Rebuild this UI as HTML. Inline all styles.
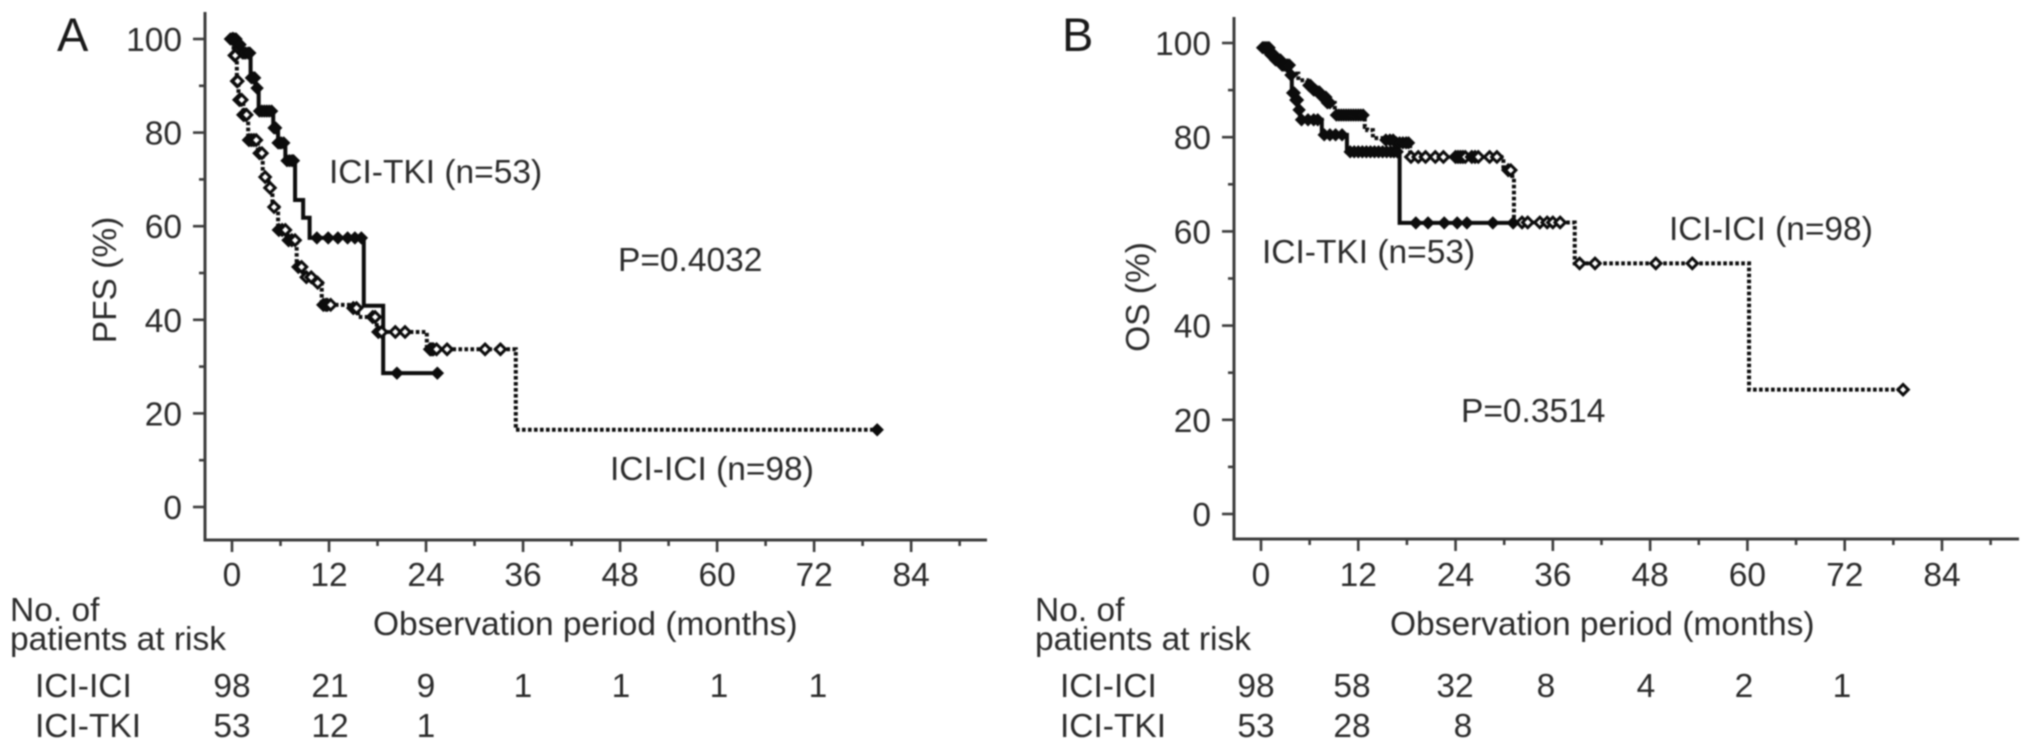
<!DOCTYPE html>
<html lang="en">
<head>
<meta charset="utf-8">
<title>Kaplan-Meier PFS and OS curves</title>
<style>
html,body{margin:0;padding:0;background:#fff;width:2032px;height:750px;overflow:hidden}
svg{display:block;filter:blur(0.75px)}
text{font-family:"Liberation Sans",Arial,sans-serif;font-size:33.5px;fill:#2b2b2b}
</style>
</head>
<body>
<svg id="chart" width="2032" height="750" viewBox="0 0 2032 750" xmlns="http://www.w3.org/2000/svg"></svg>
<script>
// ---- shared tick values ----
const yTickValues = [0, 10, 20, 30, 40, 50, 60, 70, 80, 90, 100];
const yTickLabels = ["0", "", "20", "", "40", "", "60", "", "80", "", "100"];
const xTickValues = [0, 6, 12, 18, 24, 30, 36, 42, 48, 54, 60, 66, 72, 78, 84, 90];
const xTickLabels = ["0", "", "12", "", "24", "", "36", "", "48", "", "60", "", "72", "", "84", ""];

// ---- Panel A: PFS ----
const pfsTkiTimes = [-0.4, 0.6, 1.2, 2.3, 2.9, 3.3, 5.1, 5.7, 6.6, 7.8, 8.8, 9.6, 16.3, 18.7];
const pfsTkiSurv = [100, 98.8, 97, 91.7, 89.5, 84.6, 81, 77.8, 74, 65.6, 61.8, 57.5, 43, 28.6];
const pfsTkiEnd = 25.8;
const pfsTkiCensors = [-0.2, 0, 0.3, 0.5, 0.8, 1, 1.3, 1.5, 1.7, 2, 2.2, 2.4, 2.6, 2.8, 3.1, 3.4, 3.7, 4, 4.3, 4.6, 4.9, 5.2, 5.4, 5.7, 5.9, 6.1, 6.4, 6.8, 7.1, 7.4, 7.6, 10.5, 11.9, 13.1, 14.3, 15.2, 16, 20.4, 25.4];
const pfsIciTimes = [-0.4, 0.2, 0.6, 0.8, 1.4, 2, 3.2, 3.8, 4.5, 5, 5.7, 6.8, 8, 8.8, 10.3, 11.1, 14.8, 15.6, 17.9, 24.1, 35.1];
const pfsIciSurv = [100, 96.5, 91, 87, 83.8, 78.4, 75.6, 70.5, 68.2, 64.1, 59.2, 57, 51.3, 49.1, 47.9, 43.2, 42.5, 40.6, 37.4, 33.7, 16.5];
const pfsIciEnd = 79.8;
const pfsIciCensors = [0.1, 0.3, 0.4, 0.6, 0.7, 0.9, 1, 1.2, 1.4, 1.5, 1.7, 1.8, 2.1, 2.4, 2.7, 3, 3.4, 3.7, 4.1, 4.7, 5.2, 5.8, 6.2, 6.6, 7, 7.4, 7.8, 8.2, 8.6, 9.2, 9.8, 10.6, 11.3, 11.6, 11.8, 12.2, 15, 15.4, 17.4, 17.7, 18.1, 18.5, 20.2, 21.4, 24.5, 24.7, 24.9, 25.3, 26.6, 31.3, 33.2];
const pfsFinalCensor = [79.8];
const pfsRiskIci = ["98", "21", "9", "1", "1", "1", "1"];
const pfsRiskTki = ["53", "12", "1"];

// ---- Panel B: OS ----
const osTkiTimes = [0, 1.1, 1.7, 2.6, 3.6, 3.8, 4.3, 4.6, 4.8, 7.5, 10.6, 17.1];
const osTkiSurv = [99, 97.5, 96.4, 95.3, 93.2, 89.4, 87.9, 85.8, 83.7, 80.5, 76.9, 61.8];
const osTkiEnd = 31.3;
const osTkiCensors = [0.2, 0.4, 0.6, 0.8, 1, 1.2, 1.4, 1.6, 1.8, 2, 2.2, 2.4, 2.6, 2.8, 3, 3.2, 3.3, 3.5, 3.7, 3.9, 4.1, 4.3, 4.5, 4.7, 5, 5.8, 6.5, 7, 7.8, 8.5, 9.2, 10, 11, 11.5, 12, 12.5, 13, 13.5, 14, 14.5, 15, 15.5, 16, 16.4, 16.8, 19.1, 20.6, 22.6, 24.2, 25.4, 28.6, 31.1];
const osIciTimes = [0, 1.1, 1.7, 2.6, 3.3, 4.6, 5.7, 6.3, 6.9, 7.5, 8.1, 9.1, 12.8, 13.1, 13.8, 15.3, 16.5, 18.4, 29.9, 31, 31.2, 38.7, 60.2];
const osIciSurv = [99, 97.5, 96.4, 95, 93.5, 92.1, 91, 90, 89.6, 88.5, 87.3, 84.7, 82.2, 81.5, 79.8, 79.4, 78.8, 75.8, 73, 71.3, 61.9, 53.2, 26.4];
const osIciEnd = 79.4;
const osIciCensors = [18.5, 19.4, 20.3, 21.5, 22.5, 24, 24.3, 24.6, 24.9, 25.2, 26, 26.4, 26.8, 28.2, 29.1, 30.5, 30.8, 32.2, 32.9, 34.4, 35.3, 36, 36.9, 39.3, 41.2, 48.7, 53.2, 79.2];
const osIciDenseCensors = [5.9, 6.1, 6.5, 6.7, 7, 7.2, 7.6, 7.8, 8, 8.2, 8.5, 9.3, 9.6, 9.9, 10.2, 10.5, 10.8, 11.1, 11.4, 11.7, 12, 12.3, 12.6, 15.4, 15.9, 16.3, 16.7, 17.1, 17.5, 17.9, 18.2];
const osRiskIci = ["98", "58", "32", "8", "4", "2", "1"];
const osRiskTki = ["53", "28", "8"];

const SVGNS = "http://www.w3.org/2000/svg";
const root = document.getElementById("chart");

function makeText(parent, str, x, y, anchor) {
  const t = document.createElementNS(SVGNS, "text");
  t.setAttribute("x", x);
  t.setAttribute("y", y);
  t.setAttribute("text-anchor", anchor || "start");
  t.textContent = str;
  parent.appendChild(t);
  return t;
}
function makeShape(parent, tag) {
  const s = document.createElementNS(SVGNS, tag);
  parent.appendChild(s);
  return s;
}
function survAt(t, times, surv) {
  let v = surv[0];
  for (let i = 0; i < times.length; i++) { if (t >= times[i]) v = surv[i]; }
  return v;
}

function drawSeries(group, times, surv, end, xf, yf, dotted) {
  let d = "M" + xf(times[0]) + " " + yf(surv[0]);
  for (let i = 1; i < times.length; i++) {
    d += " H" + xf(times[i]) + " V" + yf(surv[i]);
  }
  d += " H" + xf(end);
  const p = makeShape(group, "path");
  p.setAttribute("d", d);
  p.setAttribute("fill", "none");
  p.setAttribute("stroke", "#0c0c0c");
  p.setAttribute("stroke-width", "4");
  if (dotted) p.setAttribute("stroke-dasharray", "3.6 2.4");
  
  
}

function drawCensors(group, list, times, surv, xf, yf, hollow) {
  list.forEach(function (c) {
    const cx = xf(c), cy = yf(survAt(c, times, surv));
    const r = hollow ? 5.2 : 6;
    const m = makeShape(group, "polygon");
    m.setAttribute("points", (cx - r) + "," + cy + " " + cx + "," + (cy - r) + " " + (cx + r) + "," + cy + " " + cx + "," + (cy + r));
    m.setAttribute("fill", hollow ? "#fff" : "#0c0c0c");
    m.setAttribute("stroke", "#0c0c0c");
    m.setAttribute("stroke-width", hollow ? "3" : "1");
    
    
  });
}

function drawPanel(cfg) {
  const g = makeShape(root, "g");
  
  
  const xf = function (t) { return cfg.x0 + cfg.xs * t; };
  const yf = function (v) { return cfg.y0 - cfg.ys * v; };

  const yAxis = makeShape(g, "line");
  yAxis.setAttribute("x1", cfg.axisX); yAxis.setAttribute("x2", cfg.axisX);
  yAxis.setAttribute("y1", cfg.axisTop); yAxis.setAttribute("y2", cfg.axisY);
  yAxis.setAttribute("stroke", "#3c3c3c"); yAxis.setAttribute("stroke-width", "3");
  
  

  const xAxis = makeShape(g, "line");
  xAxis.setAttribute("x1", cfg.axisX - 1.5); xAxis.setAttribute("x2", cfg.axisEnd);
  xAxis.setAttribute("y1", cfg.axisY); xAxis.setAttribute("y2", cfg.axisY);
  xAxis.setAttribute("stroke", "#3c3c3c"); xAxis.setAttribute("stroke-width", "3");
  
  

  yTickValues.forEach(function (v, i) {
    const major = yTickLabels[i] !== "";
    const tick = makeShape(g, "line");
    tick.setAttribute("x1", cfg.axisX - (major ? 12 : 6)); tick.setAttribute("x2", cfg.axisX);
    tick.setAttribute("y1", yf(v)); tick.setAttribute("y2", yf(v));
    tick.setAttribute("stroke", "#3c3c3c"); tick.setAttribute("stroke-width", "2.6");
    
    
    if (major) {
      const lab = makeText(g, yTickLabels[i], cfg.axisX - 23, yf(v) + 12, "end");
      
      
    }
  });
  xTickValues.forEach(function (v, i) {
    const major = xTickLabels[i] !== "";
    const tick = makeShape(g, "line");
    tick.setAttribute("x1", xf(v)); tick.setAttribute("x2", xf(v));
    tick.setAttribute("y1", cfg.axisY); tick.setAttribute("y2", cfg.axisY + (major ? 12 : 6));
    tick.setAttribute("stroke", "#3c3c3c"); tick.setAttribute("stroke-width", "2.6");
    
    
    if (major) {
      const lab = makeText(g, xTickLabels[i], xf(v), 586, "middle");
      
      
    }
  });

  drawSeries(g, cfg.iciT, cfg.iciS, cfg.iciEnd, xf, yf, true);
  drawSeries(g, cfg.tkiT, cfg.tkiS, cfg.tkiEnd, xf, yf, false);
  drawCensors(g, cfg.iciC, cfg.iciT, cfg.iciS, xf, yf, true);
  drawCensors(g, cfg.tkiC, cfg.tkiT, cfg.tkiS, xf, yf, false);
  if (cfg.iciFilled) drawCensors(g, cfg.iciFilled, cfg.iciT, cfg.iciS, xf, yf, false);

  const panelLabel = makeText(g, cfg.letter, cfg.letterX, 51);
  panelLabel.style.fontSize = "47px";
  panelLabel.style.fill = "#1a1a1a";
  
  

  const yTitle = makeText(g, cfg.yTitle, 0, 0, "middle");
  yTitle.setAttribute("transform", "translate(" + cfg.yTitleX + " " + cfg.yTitleY + ") rotate(-90)");
  
  

  const xTitle = makeText(g, "Observation period (months)", cfg.xTitleX, 635);
  
  

  const l1 = makeText(g, cfg.tkiLabel[0], cfg.tkiLabel[1], cfg.tkiLabel[2]);
  
  
  const l2 = makeText(g, cfg.iciLabel[0], cfg.iciLabel[1], cfg.iciLabel[2]);
  
  
  const pv = makeText(g, cfg.pLabel[0], cfg.pLabel[1], cfg.pLabel[2]);
  
  

  const rh1 = makeText(g, "No. of", cfg.riskX, 621);
  
  
  const rh2 = makeText(g, "patients at risk", cfg.riskX, 650);
  
  
  const rr1 = makeText(g, "ICI-ICI", cfg.riskX + 25, 697);
  
  
  const rr2 = makeText(g, "ICI-TKI", cfg.riskX + 25, 737);
  
  

  cfg.riskIci.forEach(function (n, i) {
    const c = makeText(g, n, cfg.riskCols[i], 697, "middle");
    
    
  });
  cfg.riskTki.forEach(function (n, i) {
    const col = n.length === 1 && i === 2 ? cfg.riskColTkiThird : cfg.riskCols[i];
    const c = makeText(g, n, col, 737, "middle");
    
    
  });
}

drawPanel({
  name: "panel-a-pfs", letter: "A", letterX: 57,
  x0: 232, xs: 8.085, y0: 507, ys: 4.68,
  axisX: 205, axisTop: 12, axisY: 540, axisEnd: 987,
  yTitle: "PFS (%)", yTitleX: 116, yTitleY: 280, xTitleX: 373,
  iciT: pfsIciTimes, iciS: pfsIciSurv, iciEnd: pfsIciEnd, iciC: pfsIciCensors, iciFilled: pfsFinalCensor,
  tkiT: pfsTkiTimes, tkiS: pfsTkiSurv, tkiEnd: pfsTkiEnd, tkiC: pfsTkiCensors,
  tkiLabel: ["ICI-TKI (n=53)", 329, 183],
  iciLabel: ["ICI-ICI (n=98)", 610, 480],
  pLabel: ["P=0.4032", 618, 271],
  riskX: 10, riskIci: pfsRiskIci, riskTki: pfsRiskTki,
  riskCols: [232, 330, 426, 523, 621, 719, 818], riskColTkiThird: 426
});

drawPanel({
  name: "panel-b-os", letter: "B", letterX: 1062,
  x0: 1261, xs: 8.107, y0: 514, ys: 4.71,
  axisX: 1234, axisTop: 17, axisY: 539, axisEnd: 2019,
  yTitle: "OS (%)", yTitleX: 1149, yTitleY: 297, xTitleX: 1390,
  iciT: osIciTimes, iciS: osIciSurv, iciEnd: osIciEnd, iciC: osIciCensors, iciFilled: osIciDenseCensors,
  tkiT: osTkiTimes, tkiS: osTkiSurv, tkiEnd: osTkiEnd, tkiC: osTkiCensors,
  tkiLabel: ["ICI-TKI (n=53)", 1262, 263],
  iciLabel: ["ICI-ICI (n=98)", 1669, 240],
  pLabel: ["P=0.3514", 1461, 422],
  riskX: 1035, riskIci: osRiskIci, riskTki: osRiskTki,
  riskCols: [1256, 1352, 1455, 1546, 1646, 1744, 1842], riskColTkiThird: 1463
});
</script>
</body>
</html>
